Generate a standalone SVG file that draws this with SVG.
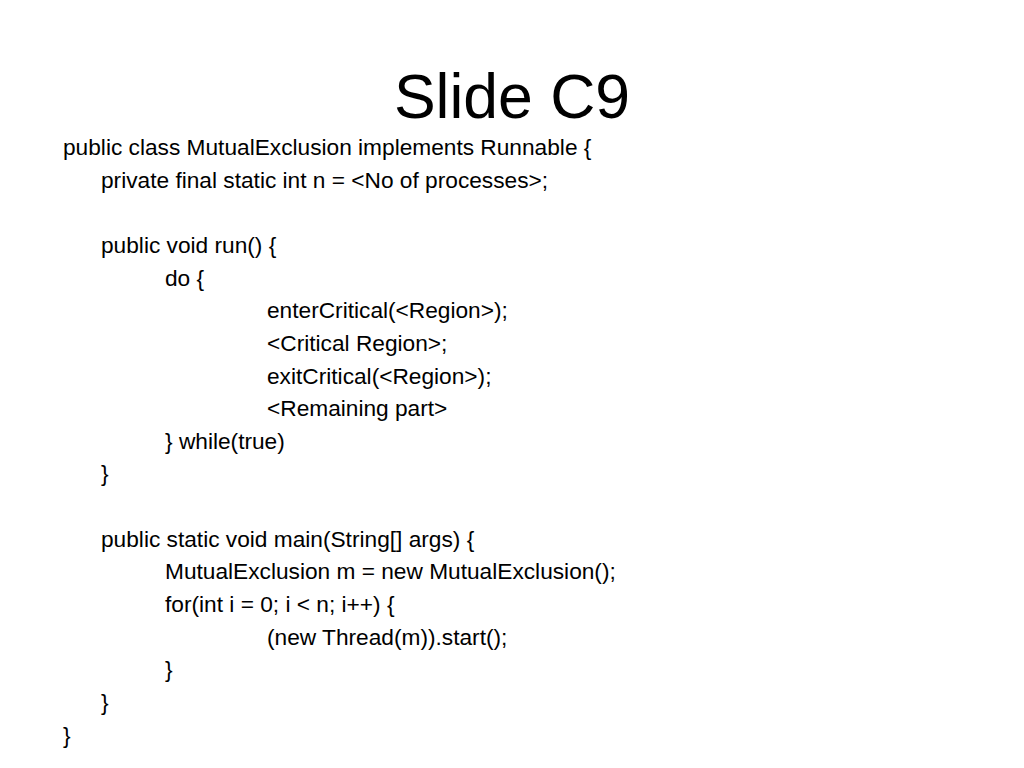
<svg xmlns="http://www.w3.org/2000/svg" width="1024" height="768" viewBox="0 0 1024 768">
<style>
.t{font-family:"Liberation Sans",Arial,sans-serif;fill:#000}
.b{font-size:22.7px}
.h{font-size:62.5px}
</style>
<rect width="1024" height="768" fill="#fff"/>
<g id="title"><text class="t h" x="512" y="118" text-anchor="middle">Slide C9</text></g>
<g id="code" class="t b">
<text x="63" y="155">public class MutualExclusion implements Runnable {</text>
<text x="101" y="188">private final static int n = &lt;No of processes&gt;;</text>
<text x="101" y="253">public void run() {</text>
<text x="165" y="286">do {</text>
<text x="267" y="318">enterCritical(&lt;Region&gt;);</text>
<text x="267" y="351">&lt;Critical Region&gt;;</text>
<text x="267" y="384">exitCritical(&lt;Region&gt;);</text>
<text x="267" y="416">&lt;Remaining part&gt;</text>
<text x="165" y="449">} while(true)</text>
<text x="101" y="481">}</text>
<text x="101" y="547">public static void main(String[] args) {</text>
<text x="165" y="579">MutualExclusion m = new MutualExclusion();</text>
<text x="165" y="612">for(int i = 0; i &lt; n; i++) {</text>
<text x="267" y="645">(new Thread(m)).start();</text>
<text x="165" y="677">}</text>
<text x="101" y="710">}</text>
<text x="63" y="743">}</text>
</g>
</svg>
